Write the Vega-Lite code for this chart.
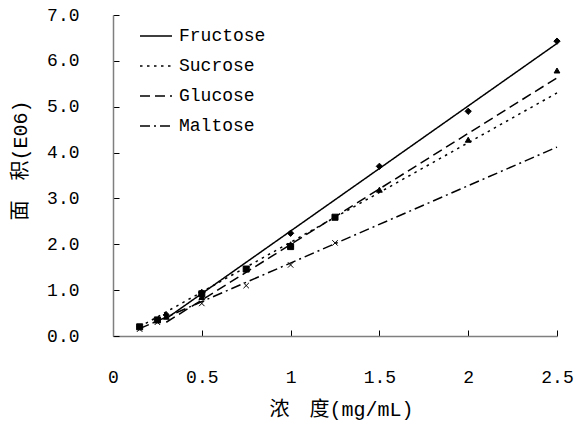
{
  "$schema": "https://vega.github.io/schema/vega-lite/v6.json",
  "autosize": {"type": "none"},
  "padding": {"left": 113, "top": 15, "right": 20, "bottom": 91},
  "width": 444,
  "height": 321,
  "background": "white",
  "config": {
    "view": {"stroke": null},
    "font": "Liberation Mono",
    "axis": {
      "grid": false,
      "domainColor": "#7f7f7f",
      "domainWidth": 1.5,
      "tickColor": "black",
      "tickWidth": 1,
      "tickSize": -6,
      "labelFlush": false,
      "labelOverlap": false,
      "labelFont": "Liberation Mono",
      "labelFontSize": 18,
      "labelColor": "black",
      "titleFont": "Liberation Mono, Noto Sans CJK SC",
      "titleFontSize": 20,
      "titleFontWeight": "normal",
      "titleColor": "black"
    },
    "axisX": {"labelPadding": 38},
    "axisY": {"labelPadding": 40}
  },
  "datasets": {
    "points": [
      {"name": "Fructose", "c": 0.3, "area": 0.46},
      {"name": "Fructose", "c": 0.5, "area": 0.95},
      {"name": "Fructose", "c": 1.0, "area": 2.24},
      {"name": "Fructose", "c": 1.5, "area": 3.70},
      {"name": "Fructose", "c": 2.0, "area": 4.90},
      {"name": "Fructose", "c": 2.5, "area": 6.43},
      {"name": "Sucrose", "c": 0.15, "area": 0.2},
      {"name": "Sucrose", "c": 0.25, "area": 0.35},
      {"name": "Sucrose", "c": 0.5, "area": 0.92},
      {"name": "Sucrose", "c": 0.75, "area": 1.46},
      {"name": "Sucrose", "c": 1.0, "area": 1.95},
      {"name": "Sucrose", "c": 1.25, "area": 2.59},
      {"name": "Glucose", "c": 0.3, "area": 0.42},
      {"name": "Glucose", "c": 0.5, "area": 0.85},
      {"name": "Glucose", "c": 1.0, "area": 2.0},
      {"name": "Glucose", "c": 1.5, "area": 3.19},
      {"name": "Glucose", "c": 2.0, "area": 4.28},
      {"name": "Glucose", "c": 2.5, "area": 5.79},
      {"name": "Maltose", "c": 0.15, "area": 0.15},
      {"name": "Maltose", "c": 0.25, "area": 0.3},
      {"name": "Maltose", "c": 0.5, "area": 0.71},
      {"name": "Maltose", "c": 0.75, "area": 1.1},
      {"name": "Maltose", "c": 1.0, "area": 1.55},
      {"name": "Maltose", "c": 1.25, "area": 2.03}
    ],
    "trend": [
      {"sugar": "Fructose", "c": 0.3, "area": 0.38},
      {"sugar": "Fructose", "c": 2.5, "area": 6.38},
      {"sugar": "Sucrose", "c": 0.15, "area": 0.2},
      {"sugar": "Sucrose", "c": 2.5, "area": 5.3},
      {"sugar": "Glucose", "c": 0.3, "area": 0.3},
      {"sugar": "Glucose", "c": 2.5, "area": 5.63},
      {"sugar": "Maltose", "c": 0.15, "area": 0.16},
      {"sugar": "Maltose", "c": 2.5, "area": 4.12}
    ]
  },
  "layer": [
    {
      "data": {"name": "trend"},
      "mark": {"type": "line", "color": "black", "strokeWidth": 1.5},
      "encoding": {
        "x": {
          "field": "c", "type": "quantitative",
          "scale": {"domain": [0, 2.5], "nice": false, "zero": false},
          "axis": {
            "values": [0, 0.5, 1, 1.5, 2, 2.5],
            "format": "~g",
            "title": "浓　度(mg/mL)",
            "titleX": 228,
            "titleY": 73,
            "titleBaseline": "middle"
          }
        },
        "y": {
          "field": "area", "type": "quantitative",
          "scale": {"domain": [0, 7], "nice": false},
          "axis": {
            "values": [0, 1, 2, 3, 4, 5, 6, 7],
            "format": ".1f",
            "title": "面　积(E06)",
            "titleX": -93,
            "titleY": 145,
            "titleAlign": "center",
            "titleBaseline": "middle",
            "titleAngle": -90,
            "encode": {"labels": {"update": {"dx": {"value": -8}}}}
          }
        },
        "detail": {"field": "sugar"},
        "strokeDash": {
          "field": "sugar", "type": "nominal",
          "scale": {
            "domain": ["Fructose", "Sucrose", "Glucose", "Maltose"],
            "range": [[1, 0], [2.5, 4.5], [10, 5], [10, 4, 2, 4]]
          },
          "legend": {
            "title": null,
            "orient": "none",
            "legendX": 26,
            "legendY": 4,
            "symbolType": "stroke",
            "symbolSize": 1024,
            "symbolStrokeWidth": 1.5,
            "symbolStrokeColor": "black",
            "labelFont": "Liberation Mono",
            "labelFontSize": 18,
            "labelColor": "black",
            "labelOffset": 6,
            "rowPadding": 4,
            "padding": 0
          }
        }
      }
    },
    {
      "data": {"name": "points"},
      "mark": {"type": "point", "filled": true, "fill": "black", "stroke": "black", "strokeWidth": 1, "opacity": 1},
      "encoding": {
        "x": {"field": "c", "type": "quantitative"},
        "y": {"field": "area", "type": "quantitative"},
        "shape": {
          "field": "name", "type": "nominal",
          "scale": {
            "domain": ["Maltose", "Glucose", "Sucrose", "Fructose"],
            "range": ["M-1,-1L1,1M-1,1L1,-1", "triangle-up", "square", "diamond"]
          },
          "legend": null
        },
        "size": {
          "field": "name", "type": "nominal",
          "scale": {
            "domain": ["Maltose", "Glucose", "Sucrose", "Fructose"],
            "range": [30, 40, 40, 28]
          },
          "legend": null
        }
      }
    }
  ]
}
